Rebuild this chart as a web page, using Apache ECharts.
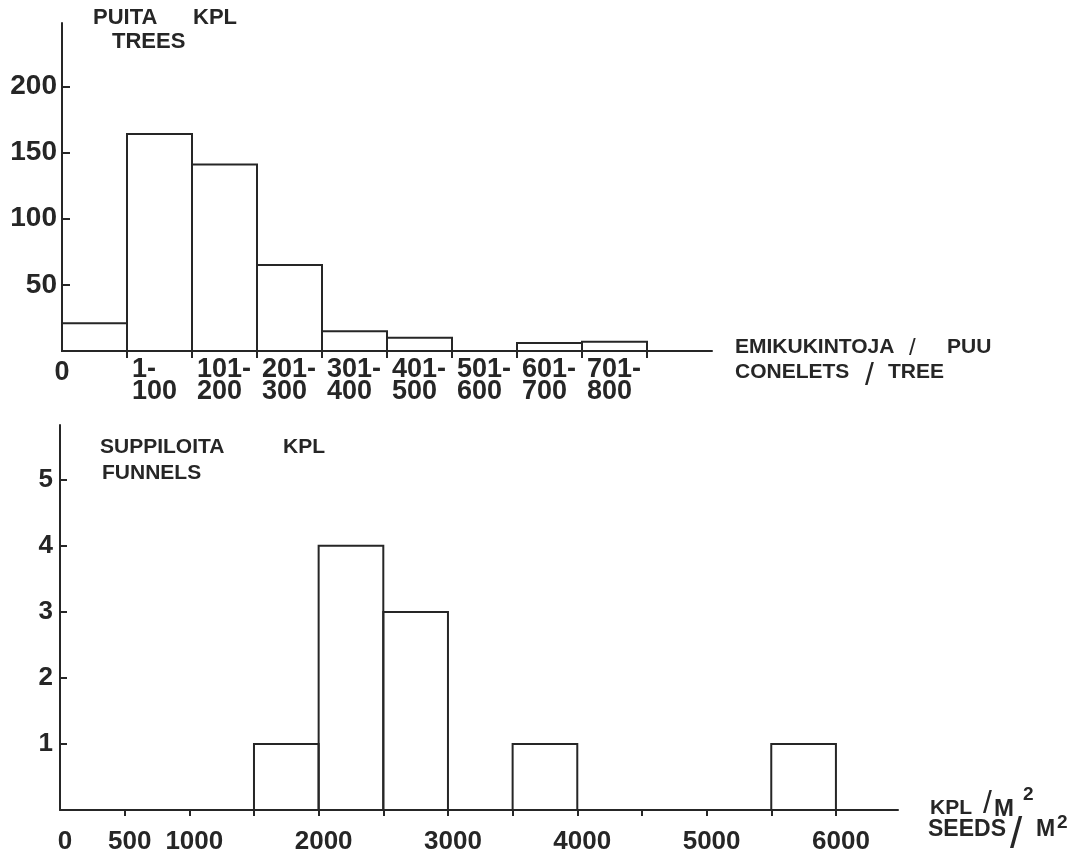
<!DOCTYPE html>
<html>
<head>
<meta charset="utf-8">
<script src="https://cdn.jsdelivr.net/npm/echarts@6/dist/echarts.min.js"></script>
<style>
  html, body { margin: 0; padding: 0; background: #fff; }
  #chart { width: 1080px; height: 857px; }
</style>
</head>
<body>
<div id="chart"></div>
<script>
// Upper histogram: trees by number of conelets per tree
const coneBinLabels = ['0', '1-\n100', '101-\n200', '201-\n300', '301-\n400', '401-\n500', '501-\n600', '601-\n700', '701-\n800'];
const treeCounts = [21, 164, 141, 65, 15, 10, 0, 6, 7];
const treeTicks = [50, 100, 150, 200];

// Lower histogram: funnels by seed count per square metre (500-wide classes)
const seedBinEdges = [0, 500, 1000, 1500, 2000, 2500, 3000, 3500, 4000, 4500, 5000, 5500, 6000];
const funnelCounts = [0, 0, 0, 1, 4, 3, 0, 1, 0, 0, 0, 1];
const seedTickLabels = [0, 500, 1000, 2000, 3000, 4000, 5000, 6000];
const funnelTicks = [1, 2, 3, 4, 5];

const INK = '#262626';
const FONT = '"Liberation Sans", Arial, sans-serif';

const treeData = treeCounts.map((c, i) => [i, i + 1, c]);
const funnelData = funnelCounts.map((c, i) => [seedBinEdges[i], seedBinEdges[i + 1], c]);
const seedTicks = seedBinEdges.slice(1);

function boxes(params, api) {
  const v = api.value(2);
  if (!v) return null;
  const p0 = api.coord([api.value(0), v]);
  const p1 = api.coord([api.value(1), 0]);
  return {
    type: 'rect',
    shape: { x: p0[0], y: p0[1], width: p1[0] - p0[0], height: p1[1] - p0[1] },
    style: { fill: 'none', stroke: INK, lineWidth: 2 }
  };
}

const axisLine = { show: true, onZero: false, lineStyle: { color: INK, width: 2 } };
const labelBase = { color: INK, fontFamily: FONT, fontWeight: 'bold' };

function txt(text, x, y, size, weight) {
  return {
    type: 'text', x: x, y: y, silent: true,
    style: { text: text, fill: INK, font: (weight || 'bold') + ' ' + size + 'px ' + FONT, verticalAlign: 'top', align: 'left' }
  };
}

const chart = echarts.init(document.getElementById('chart'));
chart.setOption({
  backgroundColor: '#fff',
  animation: false,
  grid: [
    { left: 62, right: 368, top: 23, bottom: 506, outerBoundsMode: 'none' },
    { left: 60, right: 182, top: 425, bottom: 47, outerBoundsMode: 'none' }
  ],
  xAxis: [
    {
      type: 'value', gridIndex: 0, position: 'bottom', min: 0, max: 10, splitLine: { show: false },
      axisLine: axisLine,
      axisTick: { show: true, length: 7, lineStyle: { color: INK, width: 2 }, customValues: [1, 2, 3, 4, 5, 6, 7, 8, 9] },
      axisLabel: Object.assign({}, labelBase, {
        fontSize: 27, lineHeight: 22, align: 'left', verticalAlign: 'top', margin: 8, padding: [0, 0, 0, 5],
        customValues: [1, 2, 3, 4, 5, 6, 7, 8],
        formatter: v => coneBinLabels[v]
      })
    },
    {
      type: 'value', gridIndex: 0, position: 'bottom', min: 0, max: 10, splitLine: { show: false },
      axisLine: { show: false }, axisTick: { show: false },
      axisLabel: Object.assign({}, labelBase, {
        fontSize: 27, lineHeight: 22, align: 'center', verticalAlign: 'top', margin: 11,
        customValues: [0], formatter: v => coneBinLabels[v]
      })
    },
    {
      type: 'value', gridIndex: 1, position: 'bottom', min: 0, max: 6480, splitLine: { show: false },
      axisLine: axisLine,
      axisTick: { show: true, length: 6, lineStyle: { color: INK, width: 2 }, customValues: seedTicks },
      axisLabel: Object.assign({}, labelBase, {
        fontSize: 26, margin: 19, padding: [0, 0, 0, 10],
        customValues: seedTickLabels, formatter: v => String(v)
      })
    }
  ],
  yAxis: [
    {
      type: 'value', gridIndex: 0, min: 0, max: 248, splitLine: { show: false },
      axisLine: axisLine,
      axisTick: { show: true, inside: true, length: 8, lineStyle: { color: INK, width: 2 }, customValues: treeTicks },
      axisLabel: Object.assign({}, labelBase, { fontSize: 28, margin: 5, customValues: treeTicks })
    },
    {
      type: 'value', gridIndex: 1, min: 0, max: 5.83, splitLine: { show: false },
      axisLine: axisLine,
      axisTick: { show: true, inside: true, length: 7, lineStyle: { color: INK, width: 2 }, customValues: funnelTicks },
      axisLabel: Object.assign({}, labelBase, { fontSize: 26, margin: 7, customValues: funnelTicks })
    }
  ],
  series: [
    { type: 'custom', xAxisIndex: 0, yAxisIndex: 0, renderItem: boxes, encode: { x: [0, 1], y: 2 }, data: treeData },
    { type: 'custom', xAxisIndex: 2, yAxisIndex: 1, renderItem: boxes, encode: { x: [0, 1], y: 2 }, data: funnelData }
  ],
  graphic: [
    // upper panel titles
    txt('PUITA', 93, 7, 22),
    txt('KPL', 193, 7, 22),
    txt('TREES', 112, 31, 22),
    txt('EMIKUKINTOJA', 735, 337, 21),
    txt('/', 909, 336, 24, 'normal'),
    txt('PUU', 947, 337, 21),
    txt('CONELETS', 735, 362, 21),
    txt('/', 865, 360, 32, 'normal'),
    txt('TREE', 888, 362, 21),
    // lower panel titles
    txt('SUPPILOITA', 100, 437, 21),
    txt('KPL', 283, 437, 21),
    txt('FUNNELS', 102, 463, 21),
    txt('KPL', 930, 798, 21),
    txt('/', 983, 788, 32, 'normal'),
    txt('M', 994, 797, 24),
    txt('2', 1023, 785, 19),
    txt('SEEDS', 928, 818, 23),
    txt('/', 1010, 814, 44, 'normal'),
    txt('M', 1036, 818, 23),
    txt('2', 1057, 813, 19)
  ]
});
</script>
</body>
</html>
